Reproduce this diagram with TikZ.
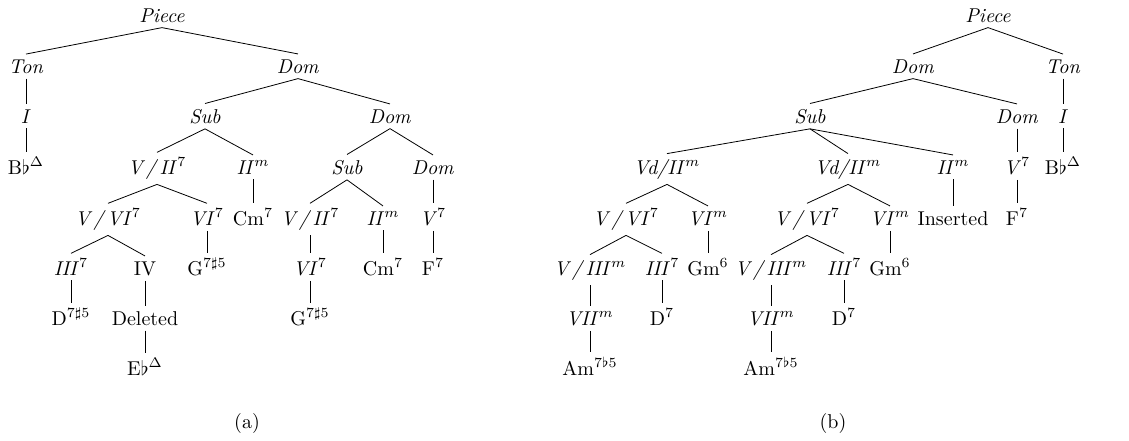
\documentclass[tikz,border=0pt]{standalone}
\begin{document}
\begin{tikzpicture}[x=0.5pt, y=-0.5pt, every node/.style={anchor=base, inner xsep=1pt, inner ysep=2.5pt}]
            \useasboundingbox (0,0) rectangle (1129,440);
            % (a)
            \node (aPiece) at (162,22) {\textit{Piece}};
            \node (aTon) at (26,73) {\textit{Ton}};
            \node (aDom) at (298,73) {\textit{Dom}};
            \node (aI) at (26,123) {\textit{I}};
            \node (aSub) at (205,123) {\textit{Sub}};
            \node (aDomB) at (390,123) {\textit{Dom}};
            \node (aBb) at (26,174) {B$\flat^\Delta$};
            \node (aVII) at (157,174) {\textit{V\,/\,II}$^7$};
            \node (aIIm) at (253,174) {\textit{II}$^m$};
            \node (aSubB) at (347,174) {\textit{Sub}};
            \node (aDomC) at (433,174) {\textit{Dom}};
            \node (aVVI) at (108,225) {\textit{V\,/\,VI}$^7$};
            \node (aVI) at (207,225) {\textit{VI}$^7$};
            \node (aCm) at (253,225) {Cm$^7$};
            \node (aVIIb) at (310,225) {\textit{V\,/\,II}$^7$};
            \node (aIImB) at (383,225) {\textit{II}$^m$};
            \node (aV) at (433,225) {\textit{V}$^7$};
            \node (aIII) at (71,275) {\textit{III}$^7$};
            \node (aIV) at (145,275) {IV};
            \node (aG) at (207,275) {G$^{7\sharp5}$};
            \node (aVIb) at (310,275) {\textit{VI}$^7$};
            \node (aCmB) at (383,275) {Cm$^7$};
            \node (aF) at (433,275) {F$^7$};
            \node (aD) at (71,325) {D$^{7\sharp5}$};
            \node (aDel) at (145,325) {Deleted};
            \node (aGb) at (310,325) {G$^{7\sharp5}$};
            \node (aEb) at (145,375) {E$\flat^\Delta$};
            \node (aCap) at (247,428) {(a)};
            \draw (aPiece.south) -- (aTon.north);
            \draw (aPiece.south) -- (aDom.north);
            \draw (aTon.south) -- (aI.north);
            \draw (aI.south) -- (aBb.north);
            \draw (aDom.south) -- (aSub.north);
            \draw (aDom.south) -- (aDomB.north);
            \draw (aSub.south) -- (aVII.north);
            \draw (aSub.south) -- (aIIm.north);
            \draw (aDomB.south) -- (aSubB.north);
            \draw (aDomB.south) -- (aDomC.north);
            \draw (aVII.south) -- (aVVI.north);
            \draw (aVII.south) -- (aVI.north);
            \draw (aIIm.south) -- (aCm.north);
            \draw (aSubB.south) -- (aVIIb.north);
            \draw (aSubB.south) -- (aIImB.north);
            \draw (aDomC.south) -- (aV.north);
            \draw (aVVI.south) -- (aIII.north);
            \draw (aVVI.south) -- (aIV.north);
            \draw (aVI.south) -- (aG.north);
            \draw (aVIIb.south) -- (aVIb.north);
            \draw (aIImB.south) -- (aCmB.north);
            \draw (aV.south) -- (aF.north);
            \draw (aIII.south) -- (aD.north);
            \draw (aIV.south) -- (aDel.north);
            \draw (aVIb.south) -- (aGb.north);
            \draw (aDel.south) -- (aEb.north);
            % (b)
            \node (bPiece) at (988,22) {\textit{Piece}};
            \node (bDom) at (913,73) {\textit{Dom}};
            \node (bTon) at (1063,73) {\textit{Ton}};
            \node (bSub) at (810,123) {\textit{Sub}};
            \node (bDomB) at (1017,123) {\textit{Dom}};
            \node (bI) at (1063,123) {\textit{I}};
            \node (bVdA) at (667,174) {\textit{Vd/II}$^m$};
            \node (bVdB) at (848,174) {\textit{Vd/II}$^m$};
            \node (bIIm) at (953,174) {\textit{II}$^m$};
            \node (bV) at (1017,174) {\textit{V}$^7$};
            \node (bBb) at (1063,174) {B$\flat^\Delta$};
            \node (bVVIa) at (626,225) {\textit{V\,/\,VI}$^7$};
            \node (bVIma) at (708,225) {\textit{VI}$^m$};
            \node (bVVIb) at (807,225) {\textit{V\,/\,VI}$^7$};
            \node (bVImb) at (890,225) {\textit{VI}$^m$};
            \node (bIns) at (953,225) {Inserted};
            \node (bF) at (1017,225) {F$^7$};
            \node (bVIIIa) at (590,275) {\textit{V\,/\,III}$^m$};
            \node (bIIIa) at (662,275) {\textit{III}$^7$};
            \node (bGma) at (708,275) {Gm$^6$};
            \node (bVIIIb) at (771,275) {\textit{V\,/\,III}$^m$};
            \node (bIIIb) at (844,275) {\textit{III}$^7$};
            \node (bGmb) at (890,275) {Gm$^6$};
            \node (bVIIa) at (590,325) {\textit{VII}$^m$};
            \node (bDa) at (662,325) {D$^7$};
            \node (bVIIb) at (771,325) {\textit{VII}$^m$};
            \node (bDb) at (844,325) {D$^7$};
            \node (bAma) at (590,375) {Am$^{7\flat5}$};
            \node (bAmb) at (771,375) {Am$^{7\flat5}$};
            \node (bCap) at (833,428) {(b)};
            \draw (bPiece.south) -- (bDom.north);
            \draw (bPiece.south) -- (bTon.north);
            \draw (bTon.south) -- (bI.north);
            \draw (bI.south) -- (bBb.north);
            \draw (bDom.south) -- (bSub.north);
            \draw (bDom.south) -- (bDomB.north);
            \draw (bDomB.south) -- (bV.north);
            \draw (bV.south) -- (bF.north);
            \draw (bSub.south) -- (bVdA.north);
            \draw (bSub.south) -- (bVdB.north);
            \draw (bSub.south) -- (bIIm.north);
            \draw (bIIm.south) -- (bIns.north);
            \draw (bVdA.south) -- (bVVIa.north);
            \draw (bVdA.south) -- (bVIma.north);
            \draw (bVdB.south) -- (bVVIb.north);
            \draw (bVdB.south) -- (bVImb.north);
            \draw (bVIma.south) -- (bGma.north);
            \draw (bVImb.south) -- (bGmb.north);
            \draw (bVVIa.south) -- (bVIIIa.north);
            \draw (bVVIa.south) -- (bIIIa.north);
            \draw (bVVIb.south) -- (bVIIIb.north);
            \draw (bVVIb.south) -- (bIIIb.north);
            \draw (bVIIIa.south) -- (bVIIa.north);
            \draw (bVIIIb.south) -- (bVIIb.north);
            \draw (bIIIa.south) -- (bDa.north);
            \draw (bIIIb.south) -- (bDb.north);
            \draw (bVIIa.south) -- (bAma.north);
            \draw (bVIIb.south) -- (bAmb.north);
        \end{tikzpicture}
\end{document}
